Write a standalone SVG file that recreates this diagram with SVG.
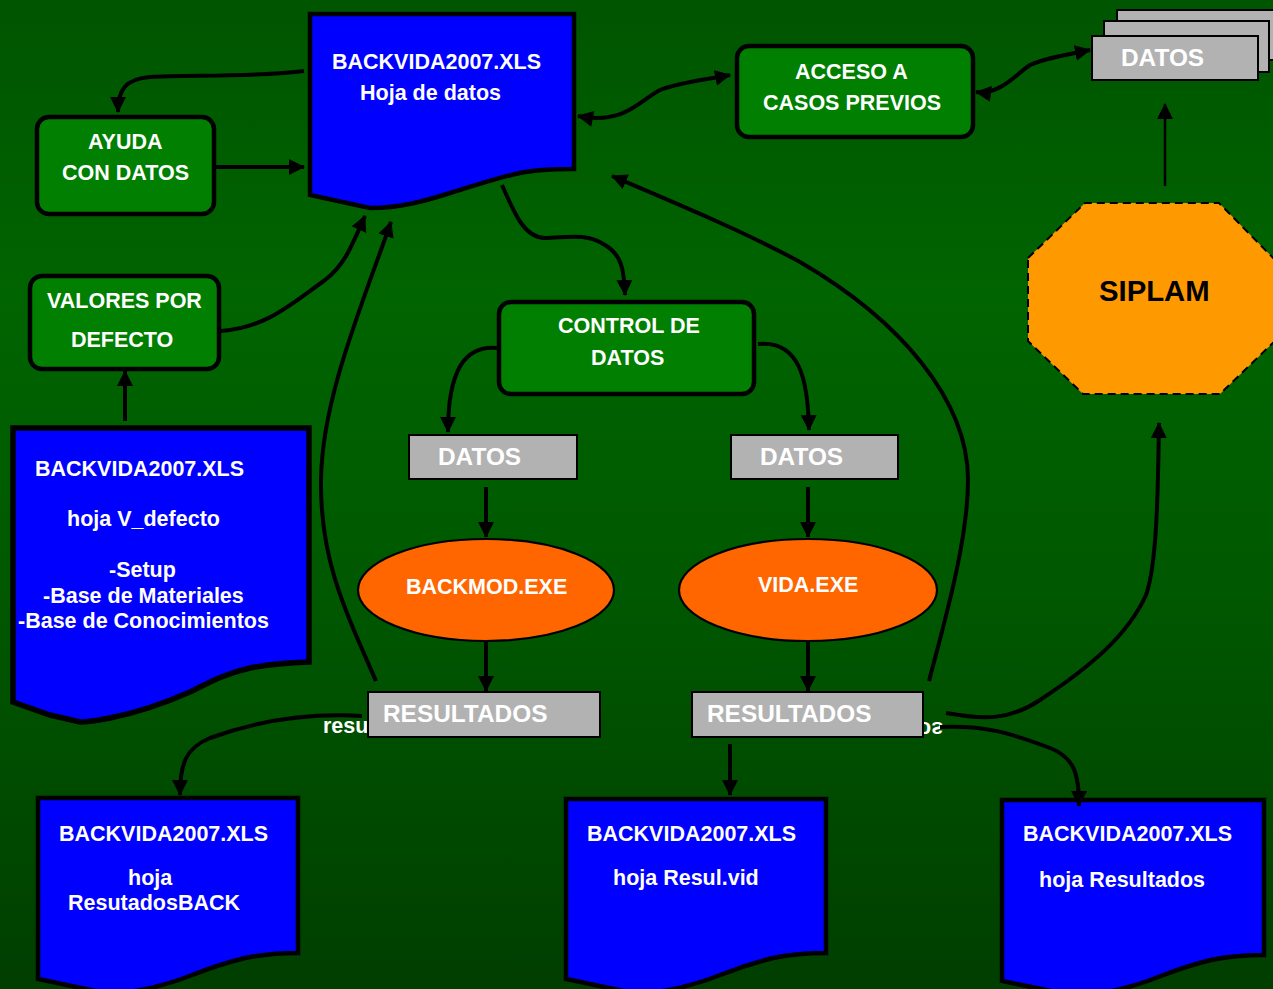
<svg xmlns="http://www.w3.org/2000/svg" width="1273" height="989" viewBox="0 0 1273 989">
<defs>
<linearGradient id="bg" x1="0" y1="0" x2="0" y2="1"><stop offset="0" stop-color="#005500"/><stop offset="0.3" stop-color="#006400"/><stop offset="0.6" stop-color="#005800"/><stop offset="1" stop-color="#003e00"/></linearGradient>
<marker id="end" markerUnits="userSpaceOnUse" markerWidth="18" markerHeight="18" refX="15" refY="8" orient="auto"><path d="M0,0L16,8L0,16Z" fill="#000"/></marker>
<marker id="start" markerUnits="userSpaceOnUse" markerWidth="18" markerHeight="18" refX="1" refY="8" orient="auto"><path d="M16,0L0,8L16,16Z" fill="#000"/></marker>
</defs>
<style>
text{font-family:"Liberation Sans",Arial,sans-serif;font-weight:bold;font-size:21.5px;fill:#fff}
.doc{fill:#00f;stroke:#000;stroke-width:4.5;stroke-linejoin:miter}
.box{fill:#007f00;stroke:#000;stroke-width:4.5}
.gray{fill:#b2b2b2;stroke:#000;stroke-width:2}
.ell{fill:#f60;stroke:#000;stroke-width:2.2}
.big{font-size:24.4px}
.c{fill:none;stroke:#000;stroke-width:4}
.a{marker-end:url(#end)}
.b{marker-start:url(#start);marker-end:url(#end)}
</style>
<rect width="1273" height="989" fill="url(#bg)"/>
<g id="stray-text"><text x="323" y="733">resu</text><text transform="translate(918,722) scale(1,-1)">os</text></g>
<g id="doc-hoja-datos"><path class="doc" d="M310,14H574V169C555,169 535,170 520,173C500,177 480,184 450,193C425,201 400,208 370,208L310,195Z"/><text x="332" y="69">BACKVIDA2007.XLS</text><text x="360" y="100">Hoja de datos</text></g>
<g id="acceso"><rect class="box" x="737" y="46" width="236" height="91" rx="12"/><text x="795" y="79">ACCESO A</text><text x="763" y="110">CASOS PREVIOS</text></g>
<g id="datos-stack"><rect class="gray" x="1117" y="10" width="170" height="50"/><rect class="gray" x="1104" y="21" width="165" height="51"/><rect class="gray" x="1092" y="36" width="166" height="44"/><text class="big" x="1121" y="66">DATOS</text></g>
<g id="ayuda"><rect class="box" x="37" y="117" width="177" height="97" rx="12"/><text x="88" y="149">AYUDA</text><text x="62" y="180">CON DATOS</text></g>
<g id="valores"><rect class="box" x="30" y="276" width="189" height="93" rx="12"/><text x="47" y="308">VALORES POR</text><text x="71" y="347">DEFECTO</text></g>
<g id="control"><rect class="box" x="499" y="302" width="255" height="92" rx="12"/><text x="558" y="333">CONTROL DE</text><text x="591" y="365">DATOS</text></g>
<g id="siplam"><path d="M1028,258L1085,203H1219L1280,265V336L1220,394H1083L1028,341Z" fill="#f90" stroke="#000" stroke-width="2" stroke-dasharray="8 5"/><text x="1099" y="301" style="font-size:29.3px;fill:#000">SIPLAM</text></g>
<g id="doc-v-defecto"><path class="doc" style="stroke-width:5.5" d="M13,428H309V662C280,663 265,665 250,668C220,675 205,685 190,692C165,703 140,712 110,718C95,721 85,722 80,722L50,715L13,702Z"/><text x="35" y="476">BACKVIDA2007.XLS</text><text x="67" y="526">hoja V_defecto</text><text x="109" y="577">-Setup</text><text x="43" y="603">-Base de Materiales</text><text x="18" y="628">-Base de Conocimientos</text></g>
<g id="datos-1"><rect class="gray" x="409" y="435" width="168" height="44"/><text class="big" x="438" y="465">DATOS</text></g>
<g id="datos-2"><rect class="gray" x="731" y="435" width="167" height="44"/><text class="big" x="760" y="465">DATOS</text></g>
<g id="backmod"><ellipse class="ell" cx="486" cy="590" rx="128" ry="51"/><text x="406" y="594">BACKMOD.EXE</text></g>
<g id="vida"><ellipse class="ell" cx="808" cy="590" rx="129" ry="51"/><text x="758" y="592">VIDA.EXE</text></g>
<g id="resultados-1"><rect class="gray" x="368" y="692" width="232" height="45"/><text class="big" x="383" y="722">RESULTADOS</text></g>
<g id="resultados-2"><rect class="gray" x="692" y="692" width="231" height="45"/><text class="big" x="707" y="722">RESULTADOS</text></g>
<g id="doc-resutados-back"><path class="doc" d="M38,798H298V953C275,953 260,955 245,958C225,963 210,968 195,974C170,984 140,992 110,994L38,979Z"/><text x="59" y="841">BACKVIDA2007.XLS</text><text x="128" y="885">hoja</text><text x="68" y="910">ResutadosBACK</text></g>
<g id="doc-resul-vid"><path class="doc" d="M566,799H826V953C803,953 788,955 773,958C753,963 738,968 723,974C698,984 668,992 638,994L566,979Z"/><text x="587" y="841">BACKVIDA2007.XLS</text><text x="613" y="885">hoja Resul.vid</text></g>
<g id="doc-resultados"><path class="doc" d="M1002,800H1264V955C1241,955 1226,957 1211,960C1191,965 1176,970 1161,976C1136,986 1106,994 1076,996L1002,981Z"/><text x="1023" y="841">BACKVIDA2007.XLS</text><text x="1039" y="887">hoja Resultados</text></g>
<g id="connectors">
<path class="c a" d="M304,71C260,77 190,75 150,77C125,79 118,90 118,112"/>
<path class="c a" d="M216,167H304"/>
<path class="c a" d="M221,331C265,328 290,305 325,280C345,265 352,245 365,216"/>
<path class="c a" d="M376,681C345,610 320,560 321,480C322,400 360,310 391,222"/>
<path class="c a" d="M502,185C515,215 525,238 545,238C565,238 585,232 605,245C622,255 624,270 625,295"/>
<path class="c b" d="M578,116C625,125 640,100 660,90C680,82 705,80 730,75"/>
<path class="c b" d="M976,92C1000,95 1015,75 1030,65C1045,58 1065,55 1090,50"/>
<path class="c a" style="stroke-width:2.5" d="M1165,186V104"/>
<path class="c a" d="M497,348C465,345 448,370 448,432"/>
<path class="c a" d="M758,344C800,340 808,380 809,430"/>
<path class="c a" d="M486,487V537"/>
<path class="c a" d="M808,487V537"/>
<path class="c a" d="M486,641V691"/>
<path class="c a" d="M808,641V691"/>
<path class="c a" d="M125,421V371"/>
<path class="c a" d="M362,716C290,712 240,727 210,738C185,748 180,765 180,795"/>
<path class="c a" d="M730,744V795"/>
<path class="c a" d="M940,727C985,725 1010,733 1050,748C1075,758 1079,775 1079,806"/>
<path class="c a" d="M946,713C985,720 1010,720 1040,700C1090,667 1128,635 1146,595C1157,565 1158,490 1159,423"/>
<path class="c a" d="M929,681C945,620 968,540 968,480C968,400 900,320 800,262C745,232 680,205 612,176"/>
</g>
</svg>
